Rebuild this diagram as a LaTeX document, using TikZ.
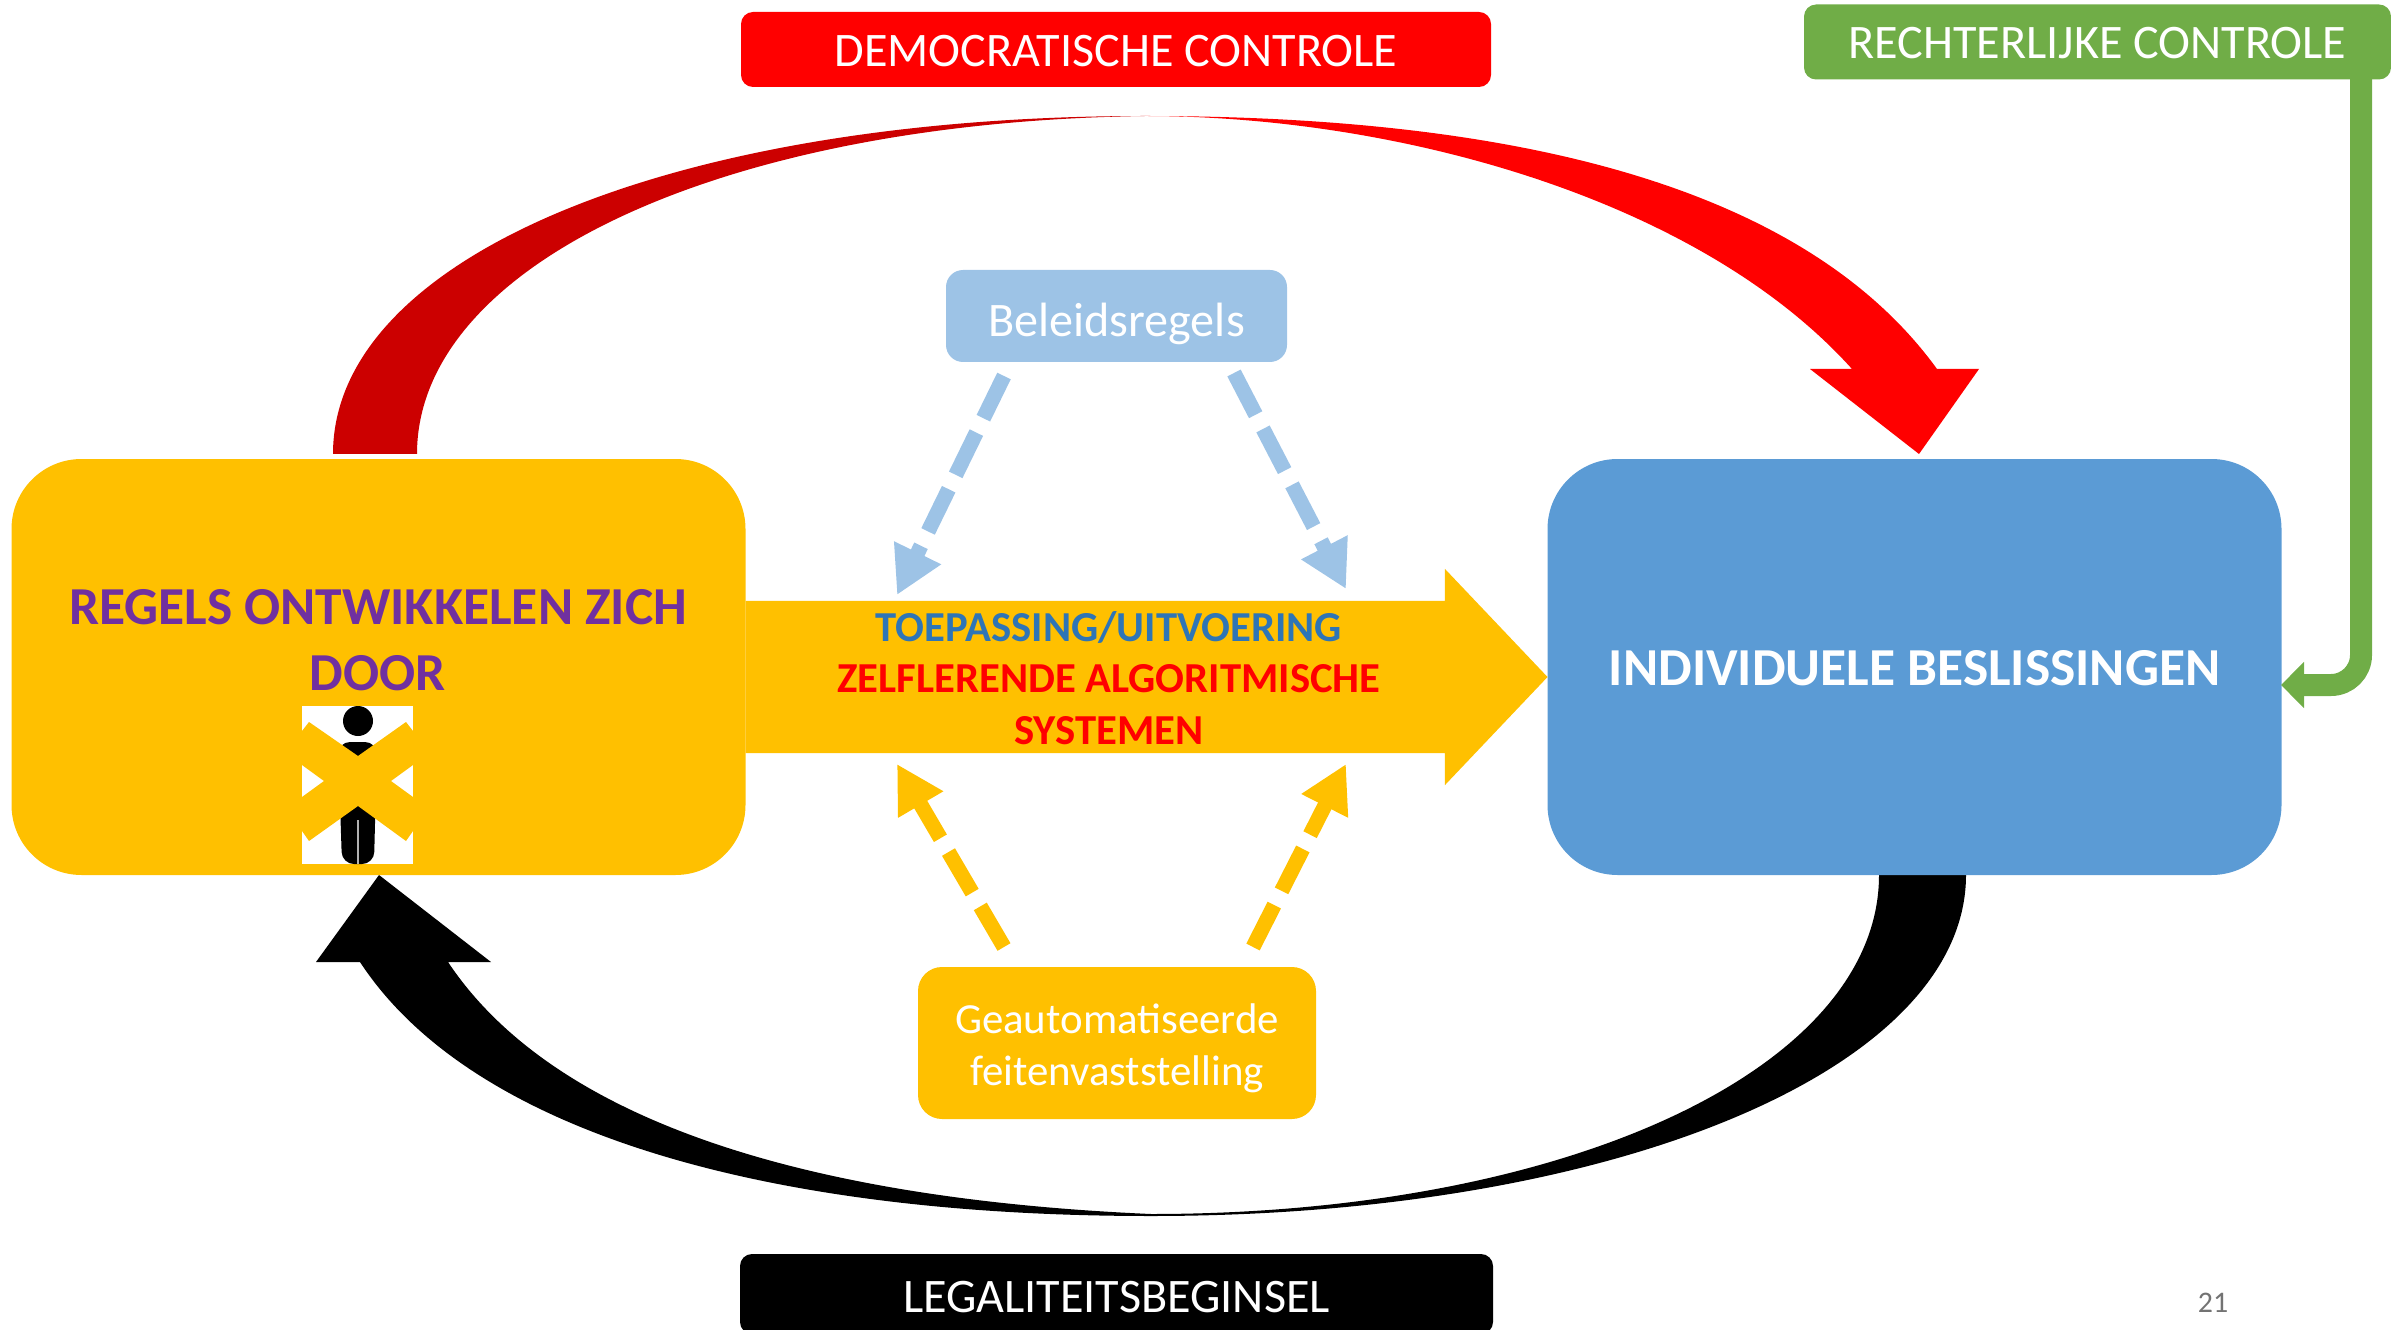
\documentclass[tikz,border=0pt]{standalone}
\usepackage{fontspec}
\setmainfont{Carlito}
\usetikzlibrary{arrows.meta,shapes.arrows}
\definecolor{amber}{HTML}{FFC000}
\definecolor{steel}{HTML}{5B9BD5}
\definecolor{pale}{HTML}{9DC3E6}
\definecolor{leaf}{HTML}{70AD47}
\definecolor{deep}{HTML}{CC0000}
\definecolor{plum}{HTML}{7030A0}
\definecolor{ink}{HTML}{2E75B6}
\begin{document}
\begin{tikzpicture}[x=0.1mm, y=-0.1mm,
  bigbox/.style={fill=#1, rounded corners=7mm, minimum width=73.4mm, minimum height=41.6mm, inner sep=0pt, outer sep=0pt},
  tagbox/.style={fill=#1, rounded corners=1.2mm, text=white, inner sep=0pt, outer sep=0pt, text height=9.7pt, font=\fontsize{13.7}{14.8}\selectfont},
  midtext/.style={text=#1, inner sep=0pt, align=center, font=\fontsize{12.15}{14.8}\selectfont\bfseries},
  dashline/.style={draw=#1, line width=1.5mm, dash pattern=on 4.7mm off 1.6mm, -{Triangle[length=4.7mm, width=4.9mm]}}]
\useasboundingbox (0,0) rectangle (2391,1330);
\fill[deep] (333,454) .. controls (333,258) and (670,116) .. (1145,116) .. controls (720,122) and (417,265) .. (417,454) -- cycle;
\fill[red] (1145,116) .. controls (1500,116) and (1800,180) .. (1937,369) -- (1979,369) -- (1919,454) -- (1810,369) -- (1852,369) .. controls (1700,200) and (1400,116) .. (1145,116) -- cycle;
\fill[black] (1879,875) .. controls (1879,1069) and (1566,1214) .. (1151,1214) .. controls (830,1200) and (560,1130) .. (448,962) -- (491,962) -- (379,875) -- (316,962) -- (360,962) .. controls (470,1130) and (760,1216) .. (1151,1216) .. controls (1616,1216) and (1966,1069) .. (1966,875) -- cycle;
\node[bigbox=amber] (BoxL) at (378.5,667) {};
\node[bigbox=steel, text=white, text height=10.7pt, font=\fontsize{15.2}{18}\selectfont\bfseries] (BoxR) at (1914.5,667) {INDIVIDUELE BESLISSINGEN};
\node[single arrow, fill=amber, anchor=tip, inner xsep=0pt, inner ysep=7.55mm, outer sep=0pt, minimum width=21.5mm, minimum height=80.2mm, single arrow head extend=3.2mm, single arrow tip angle=93] (Flow) at (BoxR.west |- 0,677) {};
\node[midtext=plum, font=\fontsize{15.2}{18.7}\selectfont\bfseries] (TxtL) at (378,640) {REGELS ONTWIKKELEN ZICH\\DOOR};
\node[midtext=ink] (TxtT) at (1109,627) {TOEPASSING/UITVOERING};
\node[midtext=red] (TxtZ) at (1109,705) {ZELFLERENDE ALGORITMISCHE\\SYSTEMEN};
\node[tagbox=red, minimum width=75mm, minimum height=7.5mm] (TagD) at (1116,49.5) {DEMOCRATISCHE CONTROLE};
\node[tagbox=leaf, minimum width=58.7mm, minimum height=7.5mm] (TagR) at (2097.5,42) {RECHTERLIJKE CONTROLE};
\node[tagbox=black, text height=10.5pt, minimum width=75.3mm, minimum height=8mm] (TagG) at (1116.5,1294) {LEGALITEITSBEGINSEL};
\node[tagbox=pale, rounded corners=1.7mm, text height=11.7pt, text depth=0pt, minimum width=34.1mm, minimum height=9.2mm] (BoxP) at (1116.5,316) {Beleidsregels};
\node[tagbox=amber, rounded corners=2.4mm, text height=, align=center, minimum width=39.8mm, minimum height=15.2mm, font=\fontsize{12.2}{14.8}\selectfont] (BoxF) at (1117,1043) {\rule{0pt}{11.5pt}Geautomatiseerde\\feitenvaststelling};
\coordinate (P1) at (1004,376);
\coordinate (P2) at (897,595);
\coordinate (P3) at (1234,373);
\coordinate (P4) at (1346,589);
\coordinate (F1) at (1004,947);
\coordinate (F2) at (897,764);
\coordinate (F3) at (1253,947);
\coordinate (F4) at (1346,764);
\draw[dashline=pale] (P1) -- (P2);
\draw[dashline=pale] (P3) -- (P4);
\draw[dashline=amber] (F1) -- (F2);
\draw[dashline=amber] (F3) -- (F4);
\coordinate (G1) at (2361,79);
\coordinate (G2) at (2361,685);
\coordinate (G3) at (2281,685);
\draw[leaf, line width=2.2mm, rounded corners=3mm, -{Triangle[length=2.3mm, width=4.5mm]}] (G1) -- (G2) -- (G3);
\fill[white] (302,706) rectangle (413,864);
\fill[black] (358,721) circle (15);
\fill[black, rounded corners=1.2mm] (338,742) -- (377,742) -- (374,864) -- (342,864) -- cycle;
\draw[white!70!black, line width=0.2mm] (358,820) -- (358,864);
\fill[amber] (309,722) -- (358,756) -- (406,722) -- (413,731) -- (413,765) -- (391,781) -- (413,797) -- (413,831) -- (406,841) -- (358,806) -- (309,841) -- (302,831) -- (302,797) -- (324,781) -- (302,765) -- (302,731) -- cycle;
\node[text=black!55, inner sep=0pt, font=\fontsize{8.5}{10}\selectfont] (PageNo) at (2213,1303) {21};
\end{tikzpicture}
\end{document}
